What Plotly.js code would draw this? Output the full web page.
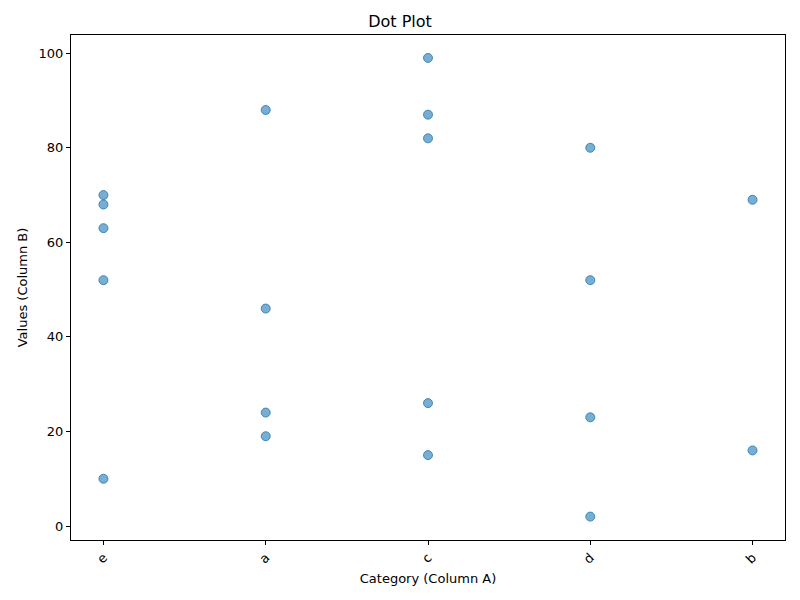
<!DOCTYPE html>
<html>
<head>
<script src="https://cdn.plot.ly/plotly-3.0.1.min.js"></script>
<style>body{margin:0}</style>
</head>
<body>
<div id="chart" style="width:800px;height:600px"></div>
<script>
// categories in display order and the points
var categories = ["e", "a", "c", "d", "b"];
var pointCats = ["e","e","e","e","e", "a","a","a","a", "c","c","c","c","c", "d","d","d","d", "b","b"];
var pointVals = [70, 68, 63, 52, 10, 88, 46, 24, 19, 99, 87, 82, 26, 15, 80, 52, 23, 2, 69, 16];

var xs = pointCats.map(function (c) { return categories.indexOf(c); });

var data = [{
  x: xs,
  y: pointVals,
  mode: "markers",
  type: "scatter",
  marker: {color: "rgba(31,119,180,0.6)", size: 9, line: {color: "rgba(31,119,180,0.8)", width: 1}},
  hoverinfo: "y"
}];

var axisStyle = {
  showline: true, mirror: true, linecolor: "black", linewidth: 1,
  ticks: "outside", ticklen: 4, tickcolor: "black",
  showgrid: false, zeroline: false,
  tickfont: {family: "DejaVu Sans", size: 13, color: "black"}
};

var layout = {
  title: {text: "Dot Plot", font: {family: "DejaVu Sans", size: 16, color: "black"}, x: 0.5, y: 0.965, yanchor: "middle"},
  font: {family: "DejaVu Sans", color: "black"},
  margin: {l: 71, r: 15, t: 35, b: 60},
  paper_bgcolor: "white",
  plot_bgcolor: "white",
  showlegend: false,
  xaxis: Object.assign({}, axisStyle, {
    range: [-0.2, 4.2],
    tickvals: [0, 1, 2, 3, 4],
    ticktext: categories,
    tickangle: -45,
    title: {text: "Category (Column A)", font: {family: "DejaVu Sans", size: 13, color: "black"}, standoff: 8}
  }),
  yaxis: Object.assign({}, axisStyle, {
    range: [-2.95, 103.85],
    tickvals: [0, 20, 40, 60, 80, 100],
    title: {text: "Values (Column B)", font: {family: "DejaVu Sans", size: 13, color: "black"}, standoff: 8}
  })
};

Plotly.newPlot("chart", data, layout, {displayModeBar: false});
</script>
</body>
</html>
